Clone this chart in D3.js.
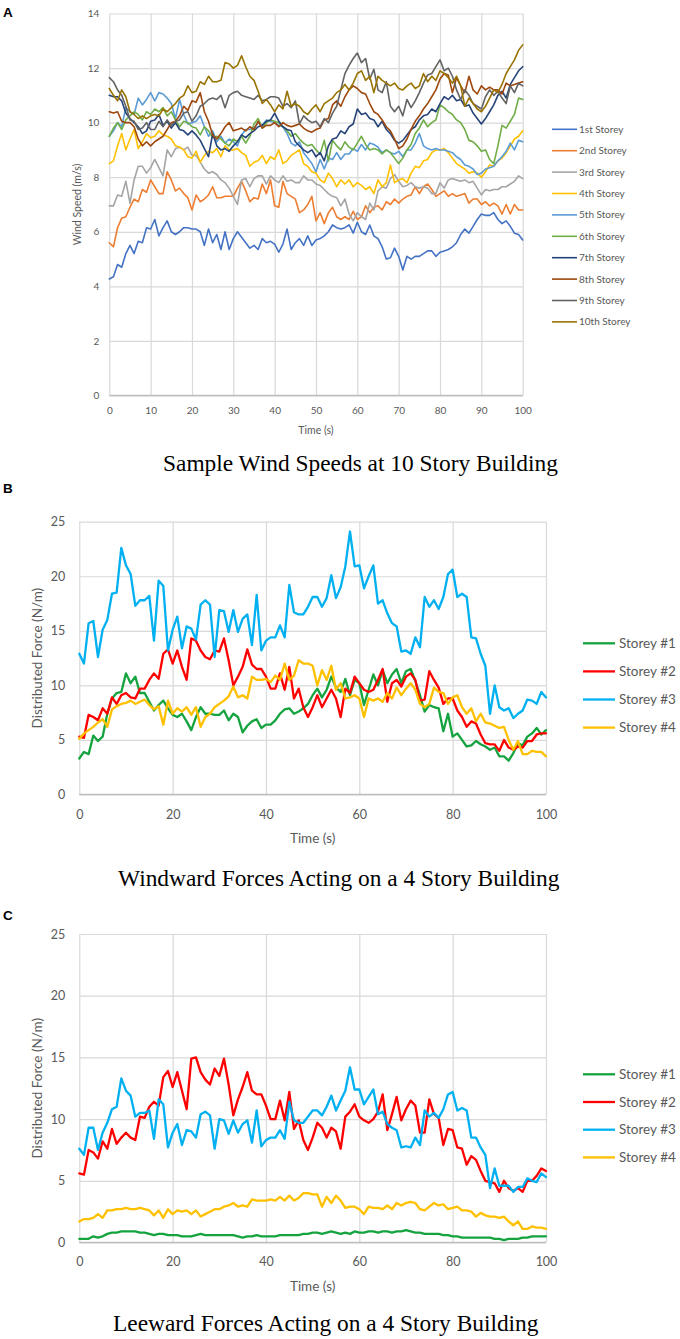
<!DOCTYPE html>
<html>
<head>
<meta charset="utf-8">
<script src="https://cdnjs.cloudflare.com/ajax/libs/d3/7.8.5/d3.min.js"></script>
<style>
    body { margin: 0; background: #fff; }
    svg text { font-family: Lato, "Open Sans", sans-serif; fill: #595959; }
    svg text.caption { font-family: "Liberation Serif", "Times New Roman", serif; fill: #000; }
    svg text.letter { font-family: "Liberation Sans", Arial, sans-serif; font-weight: bold; fill: #000; }
    .grid line { stroke: #d9d9d9; stroke-width: 1.2; }
    .series { fill: none; stroke-linejoin: round; stroke-linecap: round; }
</style>
</head>
<body>
<div id="fig"></div>
<script>
// one sample per second, value i is at t = i s
var sampleStep = 1;

// ---- A: wind speeds (m/s), 10 storeys ----
var storeyNames10 = ["1st Storey", "2nd Storey", "3rd Storey", "4th Storey", "5th Storey",
    "6th Storey", "7th Storey", "8th Storey", "9th Storey", "10th Storey"];
var storeyColors10 = ["#4472C4", "#ED7D31", "#A5A5A5", "#FFC000", "#5B9BD5",
    "#70AD47", "#264478", "#9E480E", "#636363", "#997300"];

var speed1 = [4.27,4.35,4.8,4.7,5.2,5.5,5.2,5.65,5.6,6.15,6.1,
    6.45,5.85,6.15,6.4,6.0,5.9,6.0,6.15,6.15,6.1,
    6.1,6.0,5.5,6.1,5.6,5.9,5.35,6.0,5.35,5.75,
    6.0,5.8,5.6,5.4,5.5,5.35,5.75,5.6,5.65,5.55,
    5.25,5.55,6.1,5.35,5.6,5.75,5.5,5.85,5.5,5.7,
    5.75,5.85,6.0,6.25,6.15,6.1,6.15,6.25,5.95,6.35,
    6.0,5.9,6.25,5.85,5.75,5.45,5.0,5.05,5.4,5.1,
    4.6,5.1,5.0,5.1,5.1,5.2,5.3,5.3,5.1,5.25,
    5.3,5.35,5.45,5.6,5.9,6.1,5.95,6.2,6.45,6.65,
    6.6,6.6,6.7,6.45,6.3,6.4,6.2,5.95,5.9,5.7];
var speed2 = [5.6,5.45,6.15,6.5,6.55,6.9,7.2,7.1,7.55,7.45,7.9,
    7.65,7.4,7.4,8.2,7.9,7.5,7.6,7.4,7.25,6.8,
    7.35,7.1,7.2,7.35,7.65,7.25,7.25,7.3,7.3,7.3,
    7.6,7.85,7.5,7.1,7.25,7.2,7.75,7.4,7.9,6.95,
    6.9,7.85,7.4,7.3,7.2,6.7,6.8,7.0,7.3,6.4,
    6.7,6.3,6.7,6.9,6.55,6.45,6.55,6.45,6.75,6.45,
    6.55,6.95,6.7,6.9,6.95,6.8,7.1,7.0,7.2,7.05,
    7.2,7.3,7.35,7.65,7.4,7.65,7.75,7.55,7.3,7.4,
    7.5,7.3,7.4,7.3,7.35,7.4,7.05,7.2,7.2,7.0,
    7.1,6.95,7.05,6.95,6.65,7.0,6.65,7.0,6.8,6.8];
var speed3 = [6.95,6.95,7.35,7.3,7.85,7.05,7.9,8.4,8.4,8.15,8.35,
    8.65,8.35,8.05,9.0,8.75,9.05,9.1,9.0,9.1,8.8,
    8.8,8.55,8.3,8.15,8.2,8.1,7.9,7.8,7.6,7.3,
    7.0,7.9,7.95,7.65,7.95,8.05,8.05,7.75,8.05,7.9,
    7.8,8.05,7.85,7.9,7.8,7.8,8.05,7.9,7.9,7.75,
    7.7,7.55,7.4,7.3,7.25,6.95,7.2,6.65,6.4,6.7,
    6.55,6.45,7.05,6.8,7.5,7.65,7.6,7.95,8.1,7.85,
    7.65,7.7,7.8,7.65,7.6,7.65,7.6,7.4,7.4,7.8,
    7.6,7.9,7.95,7.9,7.85,7.9,7.8,7.85,7.6,7.35,
    7.55,7.5,7.55,7.55,7.65,7.65,7.75,7.85,8.05,7.95];
var speed4 = [8.5,8.6,9.15,9.6,9.0,9.4,9.75,9.05,9.3,9.6,9.45,
    9.5,9.7,9.55,9.5,9.4,9.15,9.1,9.0,8.75,8.7,
    8.95,8.55,8.8,8.95,8.9,9.05,8.75,9.15,9.0,9.0,
    9.05,8.9,8.8,8.4,8.55,8.6,8.8,8.5,8.75,8.65,
    9.0,8.5,8.6,8.8,8.9,9.0,8.5,8.4,8.2,8.15,
    7.9,7.8,8.15,7.95,7.65,7.9,7.75,7.9,7.65,7.8,
    7.7,7.55,7.65,7.4,7.9,7.65,7.8,8.45,7.8,7.9,
    7.95,7.8,8.15,8.4,8.35,8.6,8.65,8.9,9.0,9.0,
    9.05,8.9,8.7,8.5,8.4,8.3,8.15,8.2,8.15,8.0,
    8.2,8.45,8.4,8.6,8.7,8.9,9.15,9.4,9.5,9.7];
var speed5 = [9.5,9.7,10.0,9.85,10.55,10.4,10.3,10.9,10.65,10.85,11.1,
    10.8,11.1,11.05,10.9,10.7,10.15,10.85,10.3,9.95,10.0,
    10.05,10.25,9.85,9.5,9.7,9.3,9.5,9.25,9.4,9.3,
    9.15,9.55,9.75,9.75,9.8,10.0,9.9,10.1,10.05,10.0,
    9.9,9.85,9.6,9.25,9.15,9.3,8.9,8.7,8.5,8.2,
    8.65,8.3,8.7,8.65,8.9,8.65,8.85,8.85,9.05,8.95,
    9.2,9.0,9.25,9.2,9.1,8.9,9.0,8.9,8.85,8.95,
    8.75,9.0,9.0,9.25,9.6,9.15,9.05,9.0,9.05,9.0,
    9.0,8.95,8.9,8.75,8.65,8.45,8.4,8.3,8.1,8.15,
    8.3,8.35,8.4,8.6,8.75,8.95,9.25,9.0,9.35,9.3];
var speed6 = [9.5,9.8,10.0,9.75,10.1,10.25,10.4,10.3,10.1,10.4,10.3,
    10.5,10.4,10.55,10.25,10.4,10.1,9.85,10.05,10.0,9.85,
    9.8,9.55,9.85,9.7,9.45,9.5,9.4,9.25,9.15,9.4,
    9.3,9.5,9.25,9.5,9.95,10.15,9.8,10.0,10.1,10.05,
    10.0,9.85,9.7,9.5,9.6,9.4,9.25,9.15,9.2,9.0,
    8.85,9.35,8.6,9.35,9.15,9.0,9.3,9.1,9.0,9.25,
    9.5,9.2,9.0,9.05,9.0,8.85,9.0,8.9,8.7,8.5,
    8.7,9.0,9.2,9.6,9.8,10.1,9.85,10.0,10.1,10.65,
    10.55,10.4,10.3,10.1,10.0,9.75,9.35,9.3,9.15,8.95,
    9.0,8.65,8.5,9.15,9.9,9.8,10.05,10.3,10.9,10.85];
var speed7 = [11.0,10.95,10.95,10.8,10.35,10.15,10.0,9.85,9.6,9.7,10.05,
    10.1,10.3,9.9,10.05,9.8,10.0,9.75,9.7,9.55,9.7,
    9.55,9.35,9.05,8.75,9.6,9.15,9.0,9.05,8.95,9.15,
    9.3,9.55,9.45,9.6,9.7,9.85,9.9,10.05,10.1,10.35,
    10.05,9.85,9.75,9.7,9.3,9.15,9.0,8.9,9.0,8.75,
    8.9,8.6,9.15,9.4,9.45,9.7,9.6,9.85,9.95,10.5,
    10.3,10.35,10.15,10.1,9.85,10.05,9.75,9.6,9.35,9.25,
    9.35,9.55,9.75,9.85,10.1,10.25,10.3,10.5,10.4,10.7,
    10.95,10.85,11.0,10.8,10.85,10.6,10.65,10.35,10.15,9.95,
    10.15,10.4,10.65,11.0,11.15,10.9,11.4,11.65,11.9,12.05];
var speed8 = [10.4,10.35,10.4,10.05,10.0,10.0,9.85,9.4,9.15,9.3,9.15,
    9.3,9.4,9.5,9.75,10.0,10.05,10.25,10.6,10.45,10.8,
    10.75,11.1,10.4,10.05,9.55,9.4,9.6,9.85,10.0,9.7,
    9.75,9.8,9.7,9.85,9.75,10.05,9.8,9.9,9.9,10.0,
    9.85,10.0,9.9,9.85,9.9,9.95,9.8,9.7,9.65,9.75,
    9.8,10.1,10.15,10.65,10.8,10.6,10.95,11.2,11.35,11.25,
    11.1,11.05,10.7,10.4,10.3,10.1,9.85,9.7,9.4,9.05,
    9.15,9.4,9.75,10.05,10.25,10.5,10.7,10.95,11.2,11.6,
    11.8,11.75,11.1,11.65,11.35,11.1,11.7,11.2,11.05,11.35,
    11.2,11.3,11.2,11.2,11.05,11.45,11.35,11.4,11.45,11.5];
var speed9 = [11.65,11.5,11.2,11.0,10.6,10.1,10.05,9.75,9.8,10.0,9.75,
    9.75,10.05,9.85,10.1,9.9,10.05,10.1,10.35,10.4,10.05,
    10.25,10.6,10.7,10.85,10.9,10.85,11.0,10.55,11.0,11.1,
    11.15,11.0,10.95,10.9,10.85,11.0,10.8,10.85,10.95,10.95,
    10.9,10.6,10.7,10.55,10.8,9.95,10.25,10.1,10.0,10.05,
    9.85,10.15,10.0,10.35,10.6,11.2,11.8,12.1,12.35,12.55,
    12.2,12.35,11.6,11.95,11.2,11.1,11.5,10.6,10.4,10.6,
    10.25,10.85,10.55,10.8,11.1,11.45,11.75,11.8,12.05,12.3,
    11.9,12.0,11.7,11.2,10.85,11.2,11.0,10.7,10.6,10.5,
    10.95,11.2,11.0,11.15,10.9,10.7,11.35,11.1,11.45,11.35];
var speed10 = [11.25,11.0,10.8,11.2,10.95,10.4,10.3,10.15,10.25,10.15,10.25,
    10.3,10.25,10.5,10.4,10.55,10.7,10.9,11.0,11.35,11.1,
    11.15,11.5,11.4,11.7,11.5,11.5,11.55,12.2,12.15,12.0,
    12.1,12.45,12.05,11.7,11.55,11.15,10.7,10.85,10.65,10.4,
    10.65,10.5,11.15,10.6,10.7,10.6,10.4,10.3,10.5,10.65,
    10.4,10.7,10.8,10.9,11.1,11.2,11.4,11.2,11.45,11.8,
    11.9,11.55,11.7,11.1,11.7,11.55,11.45,11.35,11.45,11.25,
    11.2,11.35,11.45,11.25,11.35,11.8,11.5,11.7,11.55,11.9,
    11.8,11.65,11.45,11.7,11.35,10.6,10.9,10.7,10.5,10.4,
    10.6,10.9,11.2,11.1,11.4,11.8,12.05,12.3,12.65,12.85];

var speedTicks = [0, 2, 4, 6, 8, 10, 12, 14];
var timeTicksA = [0, 10, 20, 30, 40, 50, 60, 70, 80, 90, 100];

// ---- B / C: distributed forces (N/m), 4 storeys ----
var storeyNames4 = ["Storey #1", "Storey #2", "Storey #3", "Storey #4"];
var storeyColors4 = ["#14A33F", "#FF0000", "#00B0F0", "#FFC000"];

var windward1 = [3.3,3.9,3.7,5.4,4.9,5.3,7.4,8.8,9.3,9.4,
    11.1,10.2,10.8,9.3,9.3,8.5,7.7,8.2,8.6,7.9,
    7.3,7.1,7.4,6.7,5.9,7.1,8.0,7.4,7.4,7.3,
    7.3,7.7,6.8,7.4,7.1,5.7,6.3,6.7,6.9,6.1,
    6.4,6.4,6.8,7.4,7.8,7.9,7.4,7.6,7.9,8.3,
    9.1,9.7,8.9,9.6,10.8,9.8,9.4,10.6,9.1,10.5,
    10.2,8.2,9.6,11.0,10.0,11.4,10.2,11.0,11.5,10.2,
    11.3,11.5,10.4,9.1,7.6,8.2,8.0,7.9,5.8,7.4,
    5.3,5.6,5.0,4.4,4.5,4.9,4.6,4.4,4.1,4.3,
    3.5,3.5,3.1,3.8,4.7,4.5,5.3,5.6,6.1,5.5,5.9];
var windward2 = [5.3,5.2,7.3,7.1,6.8,7.9,7.4,8.9,8.3,9.1,
    9.3,8.9,8.8,9.7,9.7,10.5,11.1,10.6,12.9,13.3,
    12.0,13.2,11.7,10.5,14.3,14.1,13.2,12.6,12.4,13.2,
    13.1,14.3,12.3,10.0,10.8,11.7,13.3,11.9,11.5,11.5,
    10.8,9.7,9.7,11.1,9.6,11.7,8.8,9.7,8.0,7.1,
    8.0,9.1,8.0,8.8,9.6,8.8,7.1,9.7,9.3,10.8,
    10.2,9.6,9.4,9.6,10.5,11.5,8.5,10.2,10.5,9.9,
    10.8,11.1,10.5,8.6,8.7,11.3,10.5,9.8,8.3,8.8,
    8.8,7.7,7.1,6.2,6.7,6.5,5.5,4.7,4.6,4.6,
    4.0,5.0,4.3,4.1,4.4,4.3,4.9,4.9,5.5,5.6,5.6];
var windward3 = [12.9,12.0,15.7,15.9,12.6,15.1,16.0,18.4,18.5,22.6,
    21.0,20.2,17.3,17.8,17.8,18.2,14.1,19.6,19.1,13.2,
    15.1,16.3,13.4,15.4,15.2,14.2,17.4,17.8,17.4,12.6,
    16.9,16.8,14.9,16.9,14.9,16.1,16.5,13.7,18.3,13.2,
    14.1,14.4,14.4,15.5,14.4,19.2,16.7,16.5,16.5,17.2,
    18.1,18.1,17.2,18.0,20.1,18.0,19.0,20.9,24.1,20.9,
    21.0,18.9,20.0,21.0,17.5,17.8,16.6,15.7,15.4,13.1,
    13.2,12.9,14.4,13.5,18.1,17.2,17.8,17.0,18.1,20.2,
    20.6,18.1,18.4,18.1,14.4,14.3,12.9,11.8,7.4,10.0,
    8.0,7.7,7.9,7.0,7.4,7.7,8.7,8.6,8.3,9.4,8.9];
var windward4 = [5.1,5.6,5.9,6.2,6.6,6.9,6.2,7.8,8.1,8.3,
    8.4,8.6,8.3,8.5,8.7,8.2,7.8,8.1,6.4,8.6,
    7.4,7.9,7.6,8.0,7.3,8.0,6.2,7.1,7.4,8.0,
    8.3,8.6,9.0,9.9,8.9,9.1,8.8,10.8,10.5,10.5,
    10.6,10.3,10.9,10.5,12.0,10.5,10.9,12.3,12.0,12.0,
    11.8,10.0,11.4,10.5,11.8,9.6,10.2,8.8,8.9,9.1,
    8.8,7.1,8.8,8.6,8.8,8.5,9.3,8.8,9.8,9.1,
    9.7,10.2,9.6,8.3,8.0,8.3,9.8,9.4,9.3,8.3,
    8.9,9.1,8.0,7.4,7.9,6.7,7.4,6.6,6.5,6.3,
    6.1,6.2,5.0,4.1,4.9,3.7,3.7,4.0,3.9,3.9,3.5];

var leeward1 = [0.3,0.3,0.3,0.5,0.4,0.5,0.7,0.8,0.8,0.9,
    0.9,0.9,0.9,0.8,0.8,0.7,0.6,0.7,0.7,0.6,
    0.6,0.6,0.5,0.5,0.5,0.6,0.7,0.6,0.6,0.6,
    0.6,0.6,0.6,0.6,0.5,0.4,0.5,0.5,0.6,0.5,
    0.5,0.5,0.5,0.6,0.6,0.6,0.6,0.6,0.7,0.7,
    0.8,0.8,0.7,0.8,0.9,0.8,0.7,0.8,0.7,0.9,
    0.8,0.8,0.9,0.9,0.8,0.9,0.9,0.8,0.9,0.9,
    1.0,0.9,0.8,0.8,0.7,0.7,0.7,0.7,0.6,0.6,
    0.5,0.5,0.4,0.4,0.4,0.4,0.4,0.4,0.4,0.3,
    0.3,0.2,0.3,0.3,0.3,0.4,0.4,0.5,0.5,0.5,0.5];
var leeward2 = [5.6,5.5,7.5,7.3,6.8,8.2,7.6,9.2,8.0,8.5,
    8.9,8.5,8.3,10.2,10.1,11.0,11.4,11.1,13.4,13.9,
    12.6,13.8,12.3,10.8,14.9,15.0,13.8,13.2,12.8,14.1,
    13.5,14.9,12.8,10.3,11.6,12.6,13.8,12.3,12.0,12.0,
    11.1,10.0,10.0,11.5,9.9,12.2,9.2,9.9,8.3,7.5,
    8.5,9.7,9.3,8.5,9.3,9.0,7.6,10.2,10.6,11.2,
    10.2,9.9,9.7,10.0,10.6,12.0,9.1,10.4,11.8,9.9,
    10.8,11.5,11.1,8.9,8.9,11.6,10.4,10.1,7.9,9.2,
    9.1,7.7,7.6,6.3,7.0,6.7,5.8,5.0,4.9,4.8,
    4.1,5.0,4.4,4.2,4.4,4.1,5.0,5.0,5.4,6.0,5.8];
var leeward3 = [7.6,7.1,9.3,9.3,7.5,8.9,9.7,10.8,11.0,13.3,
    12.3,11.9,10.2,10.5,10.5,10.7,8.4,11.6,11.2,7.7,
    8.9,9.6,7.9,9.1,9.0,8.5,10.4,10.6,10.3,7.6,
    10.0,9.9,8.8,9.9,8.9,9.6,9.9,8.1,10.7,7.8,
    8.3,8.5,8.5,9.1,8.4,11.4,9.9,9.7,9.7,10.2,
    10.7,10.7,10.3,11.0,11.9,10.7,11.5,12.3,14.2,12.4,
    12.4,11.2,11.8,12.4,10.4,10.6,9.6,9.3,9.1,7.7,
    7.8,7.7,8.5,7.9,10.7,10.2,10.5,10.1,10.8,12.0,
    12.2,10.7,10.9,10.7,8.5,8.5,7.7,7.1,4.4,6.0,
    4.6,4.6,4.6,4.1,4.5,4.5,5.2,5.0,4.9,5.6,5.3];
var leeward4 = [1.7,1.9,1.9,2.0,2.3,2.0,2.6,2.6,2.7,2.7,
    2.8,2.7,2.7,2.8,2.7,2.6,2.2,2.6,2.0,2.7,
    2.3,2.6,2.5,2.6,2.3,2.6,2.1,2.3,2.5,2.7,
    2.7,2.9,3.0,3.2,2.9,3.0,2.9,3.5,3.4,3.4,
    3.4,3.5,3.4,3.7,3.4,3.8,3.4,3.6,4.0,4.0,
    3.9,3.9,2.9,3.7,3.2,3.8,3.4,2.8,2.9,2.9,
    2.7,2.3,2.9,2.8,2.8,2.7,3.0,2.7,3.2,3.0,
    3.2,3.3,3.2,2.7,2.6,2.9,3.2,3.0,3.1,2.7,
    2.8,2.9,2.6,2.6,2.5,2.1,2.4,2.2,2.1,2.1,
    2.0,2.1,1.7,1.4,1.7,1.1,1.1,1.3,1.2,1.2,1.1];

var forceTicks = [0, 5, 10, 15, 20, 25];
var timeTicksB = [0, 20, 40, 60, 80, 100];

var captions = ["Sample Wind Speeds at 10 Story Building",
    "Windward Forces Acting on a 4 Story Building",
    "Leeward Forces Acting on a 4 Story Building"];


var Chart = function(opts) {
    this.svg = opts.svg;
    this.box = opts.box;
    this.series = opts.series;
    this.names = opts.names;
    this.colors = opts.colors;
    this.xTicks = opts.xTicks;
    this.yTicks = opts.yTicks;
    this.st = opts.style;
    this.text = opts.text;

    this.draw();
};

Chart.prototype.draw = function() {
    this.g = this.svg.append("g");
    this.setScales();
    this.drawGrid();
    this.drawAxes();
    this.drawLines();
    this.addLegend();
    this.addText();
};

Chart.prototype.setScales = function() {
    this.x = d3.scaleLinear()
        .domain(d3.extent(this.xTicks))
        .range([this.box.left, this.box.right]);
    this.y = d3.scaleLinear()
        .domain(d3.extent(this.yTicks))
        .range([this.box.bottom, this.box.top]);
};

Chart.prototype.drawGrid = function() {
    var b = this.box;
    var grid = this.g.append("g").attr("class", "grid");

    grid.append("g")
        .attr("transform", "translate(0," + b.bottom + ")")
        .call(d3.axisBottom(this.x).tickValues(this.xTicks).tickSize(-(b.bottom - b.top)).tickFormat(""))
        .call(function(s) { s.select(".domain").remove(); });

    grid.append("g")
        .attr("transform", "translate(" + b.left + ",0)")
        .call(d3.axisLeft(this.y).tickValues(this.yTicks).tickSize(-(b.right - b.left)).tickFormat(""))
        .call(function(s) { s.select(".domain").remove(); });

    // Excel draws the category axis a bit darker
    this.g.append("line")
        .attr("x1", b.left).attr("x2", b.right)
        .attr("y1", this.y(0)).attr("y2", this.y(0))
        .attr("stroke", "#bfbfbf")
        .attr("stroke-width", 1.3);
};

Chart.prototype.drawAxes = function() {
    var _this = this;
    var b = this.box;

    var xAxis = this.g.append("g")
        .attr("transform", "translate(0," + b.bottom + ")")
        .call(d3.axisBottom(this.x).tickValues(this.xTicks).tickSize(0).tickPadding(this.st.xPad));
    var yAxis = this.g.append("g")
        .attr("transform", "translate(" + b.left + ",0)")
        .call(d3.axisLeft(this.y).tickValues(this.yTicks).tickSize(0).tickPadding(this.st.yPad));

    [xAxis, yAxis].forEach(function(a) {
        a.attr("font-family", null);
        a.select(".domain").remove();
        a.selectAll("text")
            .attr("fill", "#595959")
            .attr("font-size", _this.st.tickFont);
    });
};

Chart.prototype.drawLines = function() {
    var _this = this;
    var line = d3.line()
        .x(function(d, i) { return _this.x(i * sampleStep); })
        .y(function(d) { return _this.y(d); });

    this.g.append("g")
        .selectAll("path")
        .data(this.series)
        .enter().append("path")
        .attr("class", "series")
        .attr("stroke", function(d, i) { return _this.colors[i]; })
        .attr("stroke-width", this.st.lineWidth)
        .attr("d", line);
};

Chart.prototype.addLegend = function() {
    var _this = this;
    var lg = this.st.legend;

    var entry = this.g.selectAll("g.legendEntry")
        .data(this.names)
        .enter()
        .append("g").attr("class", "legendEntry")
        .attr("transform", function(d, i) { return "translate(0," + (lg.y0 + i * lg.dy) + ")"; });

    entry.append("line")
        .attr("x1", lg.x1).attr("x2", lg.x2)
        .attr("stroke", function(d, i) { return _this.colors[i]; })
        .attr("stroke-width", this.st.lineWidth);

    entry.append("text")
        .attr("x", lg.tx)
        .attr("dy", "0.35em")
        .attr("font-size", lg.font)
        .text(function(d) { return d; });
};

Chart.prototype.addText = function() {
    var t = this.text;
    var b = this.box;

    this.g.append("text")
        .attr("x", (b.left + b.right) / 2)
        .attr("y", t.xTitleY)
        .attr("dy", "0.35em")
        .attr("text-anchor", "middle")
        .attr("font-size", this.st.titleFont)
        .text("Time (s)");

    this.g.append("text")
        .attr("transform", "translate(" + t.yTitleX + "," + (b.top + b.bottom) / 2 + ") rotate(-90)")
        .attr("dy", "0.35em")
        .attr("text-anchor", "middle")
        .attr("font-size", this.st.titleFont)
        .text(t.yTitle);

    this.g.append("text")
        .attr("class", "caption")
        .attr("x", t.captionX)
        .attr("y", t.captionY)
        .attr("dy", "0.35em")
        .attr("font-size", 23.4)
        .text(t.caption);

    this.g.append("text")
        .attr("class", "letter")
        .attr("x", 3)
        .attr("y", t.letterY)
        .attr("font-size", 13.5)
        .text(t.letter);
};


var svg = d3.select("#fig").append("svg")
    .attr("width", 680)
    .attr("height", 1339);

var smallStyle = {
    tickFont: 10, titleFont: 10.5, lineWidth: 1.6, xPad: 11.5, yPad: 10,
    legend: { x1: 552, x2: 577, tx: 579, y0: 129.3, dy: 21.4, font: 10 }
};
var bigStyle = function(legendY0, legendDy, xPad) {
    return {
        tickFont: 12.5, titleFont: 13.5, lineWidth: 2.3, xPad: xPad, yPad: 14,
        legend: { x1: 583, x2: 615, tx: 619, y0: legendY0, dy: legendDy, font: 13.5 }
    };
};

new Chart({
    svg: svg,
    box: { left: 109.3, right: 522.7, top: 13.5, bottom: 395.5 },
    series: [speed1, speed2, speed3, speed4, speed5, speed6, speed7, speed8, speed9, speed10],
    names: storeyNames10,
    colors: storeyColors10,
    xTicks: timeTicksA,
    yTicks: speedTicks,
    style: smallStyle,
    text: { yTitle: "Wind Speed (m/s)", yTitleX: 77, xTitleY: 430, caption: captions[0],
            captionX: 163, captionY: 463, letter: "A", letterY: 16.5 }
});

new Chart({
    svg: svg,
    box: { left: 79.3, right: 546, top: 521.7, bottom: 794.5 },
    series: [windward1, windward2, windward3, windward4],
    names: storeyNames4,
    colors: storeyColors4,
    xTicks: timeTicksB,
    yTicks: forceTicks,
    style: bigStyle(643.3, 28.1, 16),
    text: { yTitle: "Distributed Force (N/m)", yTitleX: 37, xTitleY: 838, caption: captions[1],
            captionX: 118, captionY: 878, letter: "B", letterY: 493 }
});

new Chart({
    svg: svg,
    box: { left: 79.3, right: 546, top: 934, bottom: 1242.5 },
    series: [leeward1, leeward2, leeward3, leeward4],
    names: storeyNames4,
    colors: storeyColors4,
    xTicks: timeTicksB,
    yTicks: forceTicks,
    style: bigStyle(1074.3, 27.7, 14.5),
    text: { yTitle: "Distributed Force (N/m)", yTitleX: 37, xTitleY: 1286, caption: captions[2],
            captionX: 113, captionY: 1323, letter: "C", letterY: 920 }
});
</script>
</body>
</html>
